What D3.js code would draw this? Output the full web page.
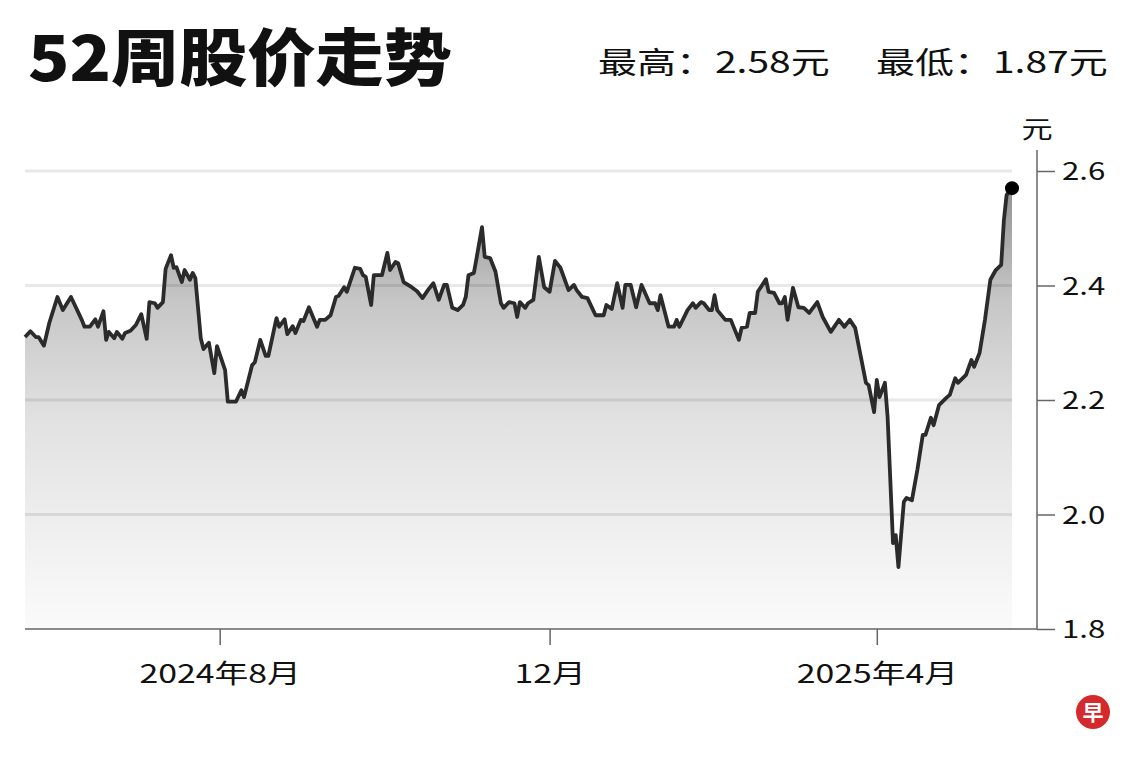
<!DOCTYPE html>
<html lang="zh">
  <head>
    <meta charset="utf-8"/>
    <script src="https://d3js.org/d3.v7.min.js"></script>
    <title>52周股价走势</title>
    <style>
      body { margin: 0; background: #fff; }
      text { font-family: "Noto Sans CJK SC", "Noto Sans", sans-serif; fill: #111; }
    </style>
  </head>
  <body>
    <svg id="svg_main"></svg>
    <script>
      const width = 1140;
      const height = 760;

      // 价格数据
      const dates = [
        "2024-05-21","2024-05-23","2024-05-25","2024-05-26","2024-05-28","2024-05-30","2024-06-02","2024-06-04","2024-06-07","2024-06-11",
        "2024-06-12","2024-06-14","2024-06-16","2024-06-17","2024-06-19","2024-06-20","2024-06-21","2024-06-23","2024-06-24","2024-06-26",
        "2024-06-27","2024-06-29","2024-07-01","2024-07-03","2024-07-05","2024-07-06","2024-07-08","2024-07-09","2024-07-11","2024-07-12",
        "2024-07-14","2024-07-15","2024-07-16","2024-07-18","2024-07-19","2024-07-21","2024-07-22","2024-07-23","2024-07-25","2024-07-26",
        "2024-07-28","2024-07-30","2024-07-31","2024-08-03","2024-08-04","2024-08-07","2024-08-09","2024-08-10","2024-08-13","2024-08-14",
        "2024-08-16","2024-08-18","2024-08-19","2024-08-22","2024-08-23","2024-08-25","2024-08-26","2024-08-28","2024-08-29","2024-08-31",
        "2024-09-01","2024-09-03","2024-09-06","2024-09-07","2024-09-09","2024-09-11","2024-09-13","2024-09-14","2024-09-16","2024-09-17",
        "2024-09-20","2024-09-22","2024-09-23","2024-09-24","2024-09-26","2024-09-27","2024-09-30","2024-10-02","2024-10-03","2024-10-05",
        "2024-10-06","2024-10-08","2024-10-11","2024-10-13","2024-10-15","2024-10-17","2024-10-19","2024-10-21","2024-10-23","2024-10-24",
        "2024-10-26","2024-10-28","2024-10-30","2024-10-31","2024-11-01","2024-11-03","2024-11-04","2024-11-06","2024-11-07","2024-11-09",
        "2024-11-11","2024-11-13","2024-11-14","2024-11-16","2024-11-18","2024-11-19","2024-11-20","2024-11-22","2024-11-23","2024-11-25",
        "2024-11-27","2024-11-29","2024-12-01","2024-12-03","2024-12-05","2024-12-08","2024-12-10","2024-12-11","2024-12-13","2024-12-15",
        "2024-12-18","2024-12-21","2024-12-22","2024-12-24","2024-12-26","2024-12-28","2024-12-29","2024-12-31","2025-01-02","2025-01-04",
        "2025-01-07","2025-01-09","2025-01-10","2025-01-11","2025-01-14","2025-01-16","2025-01-17","2025-01-18","2025-01-21","2025-01-23",
        "2025-01-24","2025-01-26","2025-01-27","2025-01-29","2025-01-30","2025-01-31","2025-02-01","2025-02-04","2025-02-06","2025-02-09",
        "2025-02-10","2025-02-12","2025-02-13","2025-02-15","2025-02-16","2025-02-19","2025-02-20","2025-02-22","2025-02-24","2025-02-25",
        "2025-02-26","2025-02-27","2025-03-01","2025-03-03","2025-03-05","2025-03-07","2025-03-10","2025-03-12","2025-03-15","2025-03-18",
        "2025-03-20","2025-03-22","2025-03-24","2025-03-28","2025-03-29","2025-03-31","2025-04-01","2025-04-02","2025-04-04","2025-04-05",
        "2025-04-07","2025-04-08","2025-04-09","2025-04-11","2025-04-12","2025-04-14","2025-04-16","2025-04-18","2025-04-19","2025-04-21",
        "2025-04-22","2025-04-24","2025-04-27","2025-04-28","2025-04-30","2025-05-01","2025-05-04","2025-05-06","2025-05-07","2025-05-09",
        "2025-05-11","2025-05-13","2025-05-15","2025-05-17","2025-05-18","2025-05-19","2025-05-21"
      ];
      const prices = [
        2.310,2.320,2.310,2.310,2.295,2.335,2.380,2.357,2.380,2.340,
        2.328,2.328,2.341,2.328,2.355,2.305,2.319,2.308,2.319,2.307,
        2.317,2.321,2.331,2.350,2.307,2.371,2.369,2.361,2.371,2.429,
        2.453,2.431,2.432,2.406,2.427,2.410,2.422,2.413,2.308,2.289,
        2.300,2.247,2.294,2.252,2.197,2.197,2.217,2.205,2.261,2.266,
        2.305,2.277,2.277,2.343,2.328,2.341,2.315,2.329,2.317,2.340,
        2.338,2.362,2.328,2.340,2.340,2.348,2.380,2.382,2.397,2.389,
        2.431,2.429,2.418,2.415,2.366,2.418,2.418,2.457,2.427,2.441,
        2.439,2.406,2.397,2.390,2.378,2.392,2.404,2.375,2.401,2.401,
        2.361,2.357,2.366,2.380,2.418,2.422,2.448,2.502,2.450,2.448,
        2.424,2.369,2.361,2.371,2.369,2.345,2.371,2.361,2.369,2.375,
        2.450,2.397,2.389,2.443,2.431,2.392,2.401,2.392,2.380,2.378,
        2.348,2.348,2.366,2.359,2.404,2.361,2.401,2.401,2.362,2.401,
        2.369,2.369,2.357,2.383,2.328,2.328,2.340,2.328,2.357,2.369,
        2.361,2.371,2.369,2.357,2.357,2.383,2.357,2.340,2.340,2.305,
        2.326,2.328,2.352,2.352,2.389,2.411,2.389,2.387,2.369,2.369,
        2.380,2.340,2.396,2.362,2.361,2.352,2.371,2.345,2.319,2.340,
        2.328,2.340,2.326,2.230,2.226,2.179,2.235,2.205,2.230,2.170,
        1.950,1.964,1.908,2.022,2.029,2.025,2.078,2.139,2.139,2.169,
        2.156,2.191,2.205,2.209,2.238,2.230,2.244,2.270,2.258,2.282,
        2.340,2.410,2.427,2.436,2.514,2.558,2.570
      ];

      const xDomain = ["2024-05-21", "2025-05-21"];
      const tickDates = ["2024-08-01", "2024-12-01", "2025-04-01"];
      const tickLabels = ["2024年8月", "12月", "2025年4月"];
      const yTicks = [1.8, 2.0, 2.2, 2.4, 2.6];
      const gridValues = [2.0, 2.2, 2.4, 2.6];
      const titleText = "52周股价走势";
      const highText = "最高：2.58元";
      const lowText = "最低：1.87元";
      const unitText = "元";

      const stretch = 1.3;   // 原图文字偏宽
      const parser = d3.timeParse("%Y-%m-%d");

      let data = dates.map(function(d, i) {
        return {date: parser(d), price: prices[i]};
      });

      let xScale = d3.scaleTime()
          .domain(xDomain.map(parser))
          .range([25, 1012]);

      let yScale = d3.scaleLinear()
          .domain([1.8, 2.6])
          .range([629, 171]);

      let svg = d3.select("#svg_main")
          .attr("width", width)
          .attr("height", height);

      function stretchedText(x, y, str, size, weight, anchor, sx) {
        let g = svg.append("g")
            .attr("transform", "translate(" + x + "," + y + ") scale(" + (sx || stretch) + ",1)");
        return g.append("text")
            .attr("font-size", size)
            .attr("font-weight", weight)
            .attr("text-anchor", anchor)
            .text(str);
      }

      // 标题
      stretchedText(28, 81, titleText, 62, 900, "start", 1.1);
      stretchedText(598, 73, highText, 30, 400, "start");
      stretchedText(876, 73, lowText, 30, 400, "start");

      // 渐变填充
      let grad = svg.append("defs").append("linearGradient")
          .attr("id", "areaGrad")
          .attr("gradientUnits", "userSpaceOnUse")
          .attr("x1", 0).attr("x2", 0)
          .attr("y1", yScale(2.6)).attr("y2", yScale(1.8));
      grad.append("stop").attr("offset", "0").attr("stop-color", "#8a8a8a");
      grad.append("stop").attr("offset", "0.28").attr("stop-color", "#c6c6c6");
      grad.append("stop").attr("offset", "0.55").attr("stop-color", "#e2e2e2");
      grad.append("stop").attr("offset", "1").attr("stop-color", "#fbfbfb");

      let area = d3.area()
          .x(function(d) { return xScale(d.date); })
          .y0(yScale(1.8))
          .y1(function(d) { return yScale(d.price); });

      svg.append("path")
          .datum(data)
          .attr("fill", "url(#areaGrad)")
          .attr("d", area);

      // 网格线
      svg.append("g")
          .selectAll("line")
          .data(gridValues)
          .join("line")
          .attr("x1", xScale.range()[0])
          .attr("x2", xScale.range()[1])
          .attr("y1", function(d) { return yScale(d); })
          .attr("y2", function(d) { return yScale(d); })
          .attr("stroke", "rgba(0,0,0,0.09)")
          .attr("stroke-width", 3);

      let line = d3.line()
          .x(function(d) { return xScale(d.date); })
          .y(function(d) { return yScale(d.price); });

      svg.append("path")
          .datum(data)
          .attr("fill", "none")
          .attr("stroke", "#2b2b2b")
          .attr("stroke-width", 3.8)
          .attr("stroke-linejoin", "round")
          .attr("d", line);

      let last = data[data.length - 1];
      svg.append("circle")
          .attr("cx", xScale(last.date))
          .attr("cy", yScale(last.price))
          .attr("r", 7)
          .attr("fill", "#000");

      // Y 轴 (右侧)
      const axisX = 1037;
      let yAxis = d3.axisRight(yScale).tickValues(yTicks).tickSize(18).tickFormat(d3.format(".1f"));
      let yAxis_g = svg.append("g")
          .attr("transform", "translate(" + axisX + ",0)")
          .call(yAxis);
      yAxis_g.select(".domain").remove();
      yAxis_g.selectAll(".tick line").attr("stroke", "#666").attr("stroke-width", 1.5);
      yAxis_g.selectAll(".tick text")
          .attr("x", 25 / stretch)
          .attr("dy", "0.36em")
          .attr("transform", "scale(" + stretch + ",1)")
          .attr("font-size", 24)
          .attr("font-family", "Noto Sans CJK SC")
          .attr("fill", "#111");
      svg.append("line")
          .attr("x1", axisX).attr("x2", axisX)
          .attr("y1", 150).attr("y2", yScale(1.8))
          .attr("stroke", "#666").attr("stroke-width", 1.5);
      stretchedText(axisX, 138, unitText, 24, 400, "middle");

      // X 轴
      let xAxis = d3.axisBottom(xScale)
          .tickValues(tickDates.map(parser))
          .tickSize(16)
          .tickFormat(function(d, i) { return tickLabels[i]; });
      let xAxis_g = svg.append("g")
          .attr("transform", "translate(0," + yScale(1.8) + ")")
          .call(xAxis);
      xAxis_g.select(".domain").remove();
      xAxis_g.selectAll(".tick line").attr("stroke", "#666").attr("stroke-width", 1.5);
      xAxis_g.selectAll(".tick text")
          .attr("y", 54)
          .attr("dy", 0)
          .attr("transform", "scale(" + stretch + ",1)")
          .attr("font-size", 26)
          .attr("font-family", "Noto Sans CJK SC")
          .attr("fill", "#111");
      svg.append("line")
          .attr("x1", 25).attr("x2", axisX)
          .attr("y1", yScale(1.8)).attr("y2", yScale(1.8))
          .attr("stroke", "#666").attr("stroke-width", 1.5);

      // 标志
      svg.append("circle")
          .attr("cx", 1093).attr("cy", 712).attr("r", 17)
          .attr("fill", "#d42a2e");
      svg.append("text")
          .attr("x", 1093).attr("y", 720)
          .attr("text-anchor", "middle")
          .attr("font-size", 21)
          .attr("font-weight", 700)
          .style("fill", "#fff")
          .text("早");
    </script>
  </body>
</html>
